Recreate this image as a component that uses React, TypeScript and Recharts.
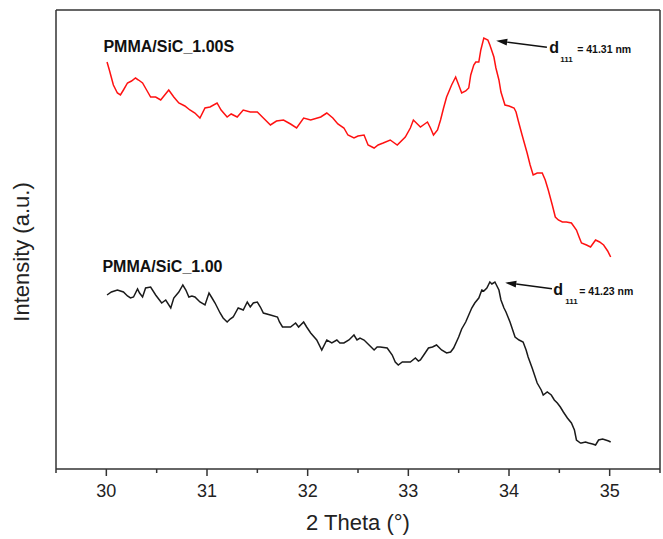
import React from 'react';
import { LineChart, Line, XAxis, YAxis, ReferenceLine, ReferenceDot, Customized } from 'recharts';

const xTicks = [29.5, 30, 30.5, 31, 31.5, 32, 32.5, 33, 33.5, 34, 34.5, 35, 35.5];
const majorTicks = [30, 31, 32, 33, 34, 35];

const sample1Name = 'PMMA/SiC_1.00S';
const sample2Name = 'PMMA/SiC_1.00';
const sample1Size = '= 41.31 nm';
const sample2Size = '= 41.23 nm';

const redTheta = [
  30.007, 30.03, 30.07, 30.11, 30.14, 30.17, 30.21, 30.25, 30.29, 30.32, 30.36, 30.40, 30.44, 30.49, 30.54, 30.58,
  30.62, 30.67, 30.72, 30.78, 30.83, 30.88, 30.93, 30.98, 31.03, 31.10, 31.14, 31.20, 31.24, 31.30, 31.36, 31.43,
  31.50, 31.56, 31.63, 31.69, 31.76, 31.83, 31.89, 31.96, 32.03, 32.13, 32.19, 32.25, 32.30, 32.36, 32.40, 32.46,
  32.50, 32.56, 32.60, 32.66, 32.70, 32.75, 32.82, 32.89, 32.97, 33.02, 33.05, 33.09, 33.12, 33.19, 33.22, 33.25,
  33.29, 33.32, 33.35, 33.38, 33.43, 33.47, 33.50, 33.53, 33.57, 33.60, 33.62, 33.65, 33.67, 33.70, 33.72, 33.75,
  33.79, 33.81, 33.85, 33.87, 33.90, 33.92, 33.96, 34.00, 34.05, 34.07, 34.09, 34.13, 34.18, 34.21, 34.24, 34.28,
  34.33, 34.36, 34.39, 34.43, 34.46, 34.49, 34.53, 34.57, 34.62, 34.67, 34.70, 34.72, 34.77, 34.81, 34.86, 34.90,
  34.94, 34.98, 35.01,
];
const redIntensity = [
  407, 399, 384, 376, 374, 379, 386, 388, 391, 389, 386, 379, 372, 372, 369, 374,
  379, 372, 366, 363, 359, 356, 351, 361, 362, 366, 359, 352, 355, 352, 359, 357,
  357, 351, 344, 348, 349, 345, 341, 351, 349, 352, 356, 351, 345, 341, 334, 331,
  333, 334, 324, 321, 324, 326, 329, 324, 332, 341, 349, 345, 342, 347, 341, 334,
  339, 349, 361, 372, 384, 392, 384, 376, 378, 381, 394, 404, 407, 407, 419, 431,
  429, 424, 412, 401, 389, 377, 364, 363, 361, 357, 349, 334, 316, 304, 294, 296,
  296, 289, 279, 264, 252, 249, 247, 247, 246, 239, 231, 226, 224, 222, 229, 227,
  224, 218, 212,
];

const blackTheta = [
  30.007, 30.05, 30.11, 30.14, 30.17, 30.21, 30.24, 30.27, 30.31, 30.33, 30.36, 30.39, 30.44, 30.49, 30.52, 30.55,
  30.59, 30.64, 30.67, 30.72, 30.76, 30.79, 30.82, 30.85, 30.88, 30.93, 30.98, 31.02, 31.05, 31.08, 31.13, 31.16,
  31.20, 31.23, 31.26, 31.31, 31.36, 31.40, 31.43, 31.46, 31.50, 31.53, 31.56, 31.63, 31.70, 31.72, 31.75, 31.79,
  31.83, 31.88, 31.91, 31.96, 31.99, 32.03, 32.09, 32.14, 32.19, 32.24, 32.29, 32.32, 32.36, 32.41, 32.46, 32.49,
  32.52, 32.56, 32.61, 32.66, 32.69, 32.72, 32.79, 32.84, 32.87, 32.90, 32.94, 32.97, 33.02, 33.07, 33.10, 33.12,
  33.16, 33.20, 33.24, 33.28, 33.33, 33.38, 33.42, 33.45, 33.50, 33.53, 33.57, 33.60, 33.63, 33.66, 33.70, 33.73,
  33.75, 33.78, 33.81, 33.83, 33.86, 33.90, 33.92, 33.95, 33.97, 34.01, 34.03, 34.06, 34.10, 34.14, 34.17, 34.19,
  34.23, 34.28, 34.32, 34.34, 34.38, 34.42, 34.45, 34.48, 34.51, 34.54, 34.58, 34.62, 34.65, 34.67, 34.71, 34.72,
  34.76, 34.79, 34.83, 34.86, 34.89, 34.93, 34.96, 34.99, 35.01,
];
const blackIntensity = [
  174, 177, 179, 178, 177, 173, 171, 172, 180, 176, 172, 181, 182, 174, 170, 166,
  169, 161, 171, 177, 184, 179, 172, 173, 172, 167, 164, 176, 171, 166, 156, 151,
  147, 150, 152, 161, 159, 167, 162, 166, 167, 162, 156, 154, 152, 147, 142, 142,
  142, 146, 142, 147, 142, 136, 129, 119, 129, 126, 129, 126, 126, 129, 134, 129,
  131, 129, 124, 119, 122, 122, 121, 114, 107, 104, 107, 107, 107, 111, 108, 109,
  115, 121, 122, 124, 119, 116, 117, 121, 132, 140, 147, 154, 161, 166, 171, 179,
  178, 181, 187, 185, 187, 179, 169, 161, 157, 147, 141, 132, 129, 127, 119, 112,
  101, 86, 79, 74, 77, 74, 69, 66, 62, 57, 51, 46, 39, 29, 26, 26,
  27, 26, 25, 24, 29, 30, 29, 28, 27,
];

const redData = redTheta.map((x, i) => ({ x, y: redIntensity[i] }));
const blackData = blackTheta.map((x, i) => ({ x, y: blackIntensity[i] }));

const FONT = '"Liberation Sans", Arial, sans-serif';
const AXIS = '#333333';

const XTick = (props: any) => {
  const { x, y, payload } = props;
  const major = majorTicks.includes(payload.value);
  return (
    <g>
      <line x1={x} y1={y} x2={x} y2={y + (major ? 7 : 4)} stroke={AXIS} strokeWidth={1.5} />
      {major && (
        <text x={x} y={y + 28} textAnchor="middle" fontSize={18} fontFamily={FONT} fill="#222">
          {payload.value}
        </text>
      )}
    </g>
  );
};

const makeLabel = (text: string) => (props: any) => (
  <text x={props.cx} y={props.cy} fontSize={16} fontWeight="bold" fontFamily={FONT} fill="#111">
    {text}
  </text>
);

const makeArrow = (o: { tx: number; ty: number; dx: number; dy: number; sx: number; sy: number; vx: number; vy: number; value: string }) => (props: any) => {
  const { cx, cy } = props;
  const len = Math.hypot(o.tx, o.ty);
  const ux = o.tx / len;
  const uy = o.ty / len;
  const hl = 11;
  const hw = 3.5;
  const bx = cx + ux * hl;
  const by = cy + uy * hl;
  const p1 = `${cx},${cy} ${bx - uy * hw},${by + ux * hw} ${bx + uy * hw},${by - ux * hw}`;
  return (
    <g>
      <line x1={bx} y1={by} x2={cx + o.tx} y2={cy + o.ty} stroke="#111" strokeWidth={1.5} />
      <polygon points={p1} fill="#111" />
      <text x={cx + o.dx} y={cy + o.dy} fontSize={16} fontWeight="bold" fontFamily={FONT} fill="#111">d</text>
      <text x={cx + o.sx} y={cy + o.sy} fontSize={8} fontWeight="bold" fontFamily={FONT} fill="#111">111</text>
      <text x={cx + o.vx} y={cy + o.vy} fontSize={10.5} fontWeight="bold" fontFamily={FONT} fill="#111">{o.value}</text>
    </g>
  );
};

const Titles = () => (
  <g>
    <text x={358} y={530} textAnchor="middle" fontSize={22} fontFamily={FONT} fill="#222">2 Theta (°)</text>
    <text x={29} y={252} textAnchor="middle" fontSize={22} fontFamily={FONT} fill="#222" transform="rotate(-90 29 252)">Intensity (a.u.)</text>
  </g>
);

export default function App() {
  return (
    <div style={{ position: 'absolute', left: 0, top: 0, background: '#fff' }}>
      <LineChart width={663} height={539} margin={{ top: 10, right: 3, bottom: 30, left: 0 }}>
        <XAxis
          type="number"
          dataKey="x"
          domain={[29.5, 35.5]}
          ticks={xTicks}
          interval={0}
          allowDataOverflow
          tickSize={0}
          tickMargin={0}
          tickLine={false}
          tick={<XTick />}
          height={40}
          axisLine={{ stroke: AXIS, strokeWidth: 1.5 }}
        />
        <YAxis
          type="number"
          dataKey="y"
          domain={[0, 459]}
          allowDataOverflow
          tick={false}
          tickLine={false}
          width={56}
          axisLine={{ stroke: AXIS, strokeWidth: 1.5 }}
        />
        <ReferenceLine y={459} stroke={AXIS} strokeWidth={1.5} ifOverflow="visible" />
        <ReferenceLine x={35.5} stroke={AXIS} strokeWidth={1.5} ifOverflow="visible" />
        <Line data={redData} dataKey="y" type="linear" stroke="#ff1111" strokeWidth={1.5} dot={false} isAnimationActive={false} />
        <Line data={blackData} dataKey="y" type="linear" stroke="#1a1a1a" strokeWidth={1.5} dot={false} isAnimationActive={false} />
        <ReferenceDot x={29.971} y={417} r={0} shape={makeLabel(sample1Name)} ifOverflow="visible" />
        <ReferenceDot x={29.961} y={197} r={0} shape={makeLabel(sample2Name)} ifOverflow="visible" />
        <ReferenceDot
          x={33.873}
          y={428.3}
          r={0}
          ifOverflow="visible"
          shape={makeArrow({ tx: 50.7, ty: 6.6, dx: 53, dy: 12, sx: 64, sy: 21, vx: 81, vy: 12, value: sample1Size })}
        />
        <ReferenceDot
          x={33.963}
          y={186.3}
          r={0}
          ifOverflow="visible"
          shape={makeArrow({ tx: 46.7, ty: 6, dx: 48, dy: 12.6, sx: 60, sy: 21, vx: 74, vy: 12.6, value: sample2Size })}
        />
        <Customized component={Titles} />
      </LineChart>
    </div>
  );
}
